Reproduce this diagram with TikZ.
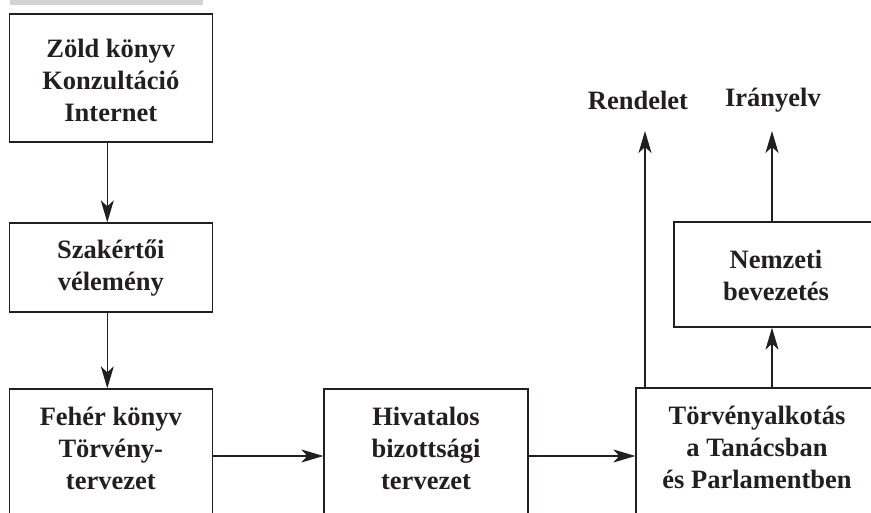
\documentclass[tikz,border=0pt]{standalone}
\usepackage{fontspec}
\setmainfont{Liberation Serif}
\usetikzlibrary{arrows.meta}
\definecolor{ink}{HTML}{231F20}
\definecolor{bar}{HTML}{D1D3D4}
\begin{document}
\begin{tikzpicture}[x=1pt,y=-1pt,
  boxshape/.style={draw=ink,line width=1.3pt,rectangle,inner sep=0pt},
  txt/.style={text=ink,align=center,inner sep=0pt,font=\fontsize{26.5}{32}\selectfont\bfseries},
  conn/.style={draw=ink,line width=1.3pt,-{Stealth[length=22pt,width=13pt,inset=6pt]}}]
\useasboundingbox (0,0) rectangle (871,513);
\clip (0,0) rectangle (871,513);
\fill[bar] (10,-5) rectangle (203,4.7);
% boxes
\node[boxshape,minimum width=203pt,minimum height=128pt] (b1) at (110.8,78) {};
\node[boxshape,minimum width=203pt,minimum height=89pt] (b2) at (110.8,267.5) {};
\node[boxshape,minimum width=203pt,minimum height=160pt] (b3) at (110.8,469) {};
\node[boxshape,minimum width=204pt,minimum height=160pt] (b4) at (426,469) {};
\node[boxshape,minimum width=242pt,minimum height=160pt] (b5) at (757,468) {};
\node[boxshape,minimum width=204pt,minimum height=105pt] (b6) at (776,274.5) {};
% texts
\node[txt] (t1) at (110.8,80) {Zöld könyv\\Konzultáció\\Internet};
\node[txt] (t2) at (110.8,268) {Szakértői\\vélemény};
\node[txt] (t3) at (110.8,448) {Fehér könyv\\Törvény-\\tervezet};
\node[txt] (t4) at (426,448) {Hivatalos\\bizottsági\\tervezet};
\node[txt] (t5) at (757,447) {Törvényalkotás\\a Tanácsban\\és Parlamentben};
\node[txt] (t6) at (776,275) {Nemzeti\\bevezetés};
\node[txt] (rend) at (638,100) {Rendelet};
\node[txt] (iran) at (773,100) {Irányelv};
% helper coordinates
\coordinate (vx) at (107.3,0);
\coordinate (hy) at (0,456);
\coordinate (rtip) at (645,131);
\coordinate (itip) at (772,131);
% connectors
\draw[conn] (b1.south -| vx) -- (b2.north -| vx);
\draw[conn] (b2.south -| vx) -- (b3.north -| vx);
\draw[conn] (b3.east |- hy) -- (b4.west |- hy);
\draw[conn] (b4.east |- hy) -- (b5.west |- hy);
\draw[conn] (b5.north -| rtip) -- (rtip);
\draw[conn] (b5.north -| itip) -- (b6.south -| itip);
\draw[conn] (b6.north -| itip) -- (itip);
\end{tikzpicture}
\end{document}
